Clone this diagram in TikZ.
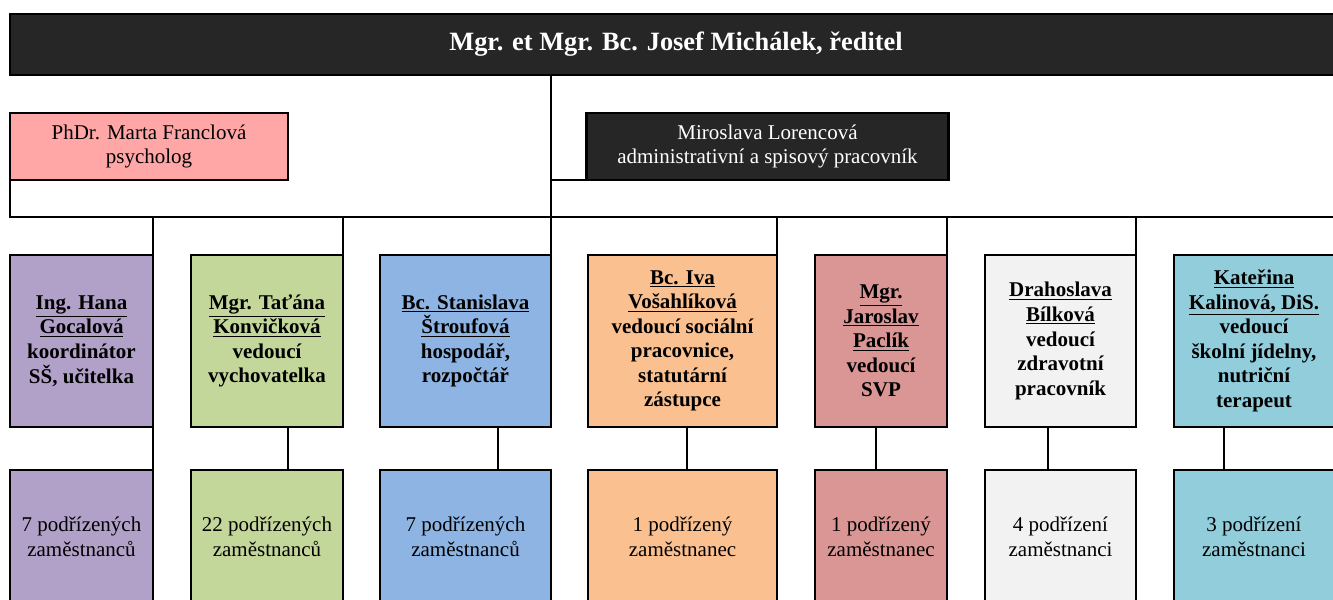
\documentclass[tikz,border=0pt]{standalone}
\usepackage{fontspec}
\setmainfont{Liberation Serif}
\usetikzlibrary{positioning}

\definecolor{barblack}{HTML}{262626}
\definecolor{psyred}{HTML}{FFA7A7}
\definecolor{lilac}{HTML}{B1A0C7}
\definecolor{olivegreen}{HTML}{C4D79B}
\definecolor{skyblue}{HTML}{8DB4E2}
\definecolor{peach}{HTML}{FAC090}
\definecolor{rosered}{HTML}{DA9694}
\definecolor{palegrey}{HTML}{F2F2F2}
\definecolor{tealblue}{HTML}{92CDDC}

\tikzset{
	box/.style={draw=black, line width=1.6pt, align=center, inner sep=0pt, outer sep=0pt, text=black},
	head/.style={box, font=\fontsize{15.75}{18.4}\selectfont\bfseries, minimum height=129pt},
	staff/.style={box, font=\fontsize{15.75}{18.75}\selectfont, minimum height=100pt},
	link/.style={line width=1.6pt}
}

\begin{document}
\begin{tikzpicture}[x=0.75pt, y=-0.75pt]
	\useasboundingbox (0,0) rectangle (1333,599);
	\clip (0,0) rectangle (1333,599);

	% director and the two staff boxes under him
	\node[box, fill=barblack, text=white, minimum width=999pt, minimum height=45.75pt, font=\fontsize{19.8}{23}\selectfont\bfseries] (dir) at (676,44.5) {Mgr. et Mgr. Bc. Josef Michálek, ředitel};
	\node[box, fill=psyred, minimum width=208.5pt, minimum height=50.25pt, font=\fontsize{15.75}{18}\selectfont] (psy) at (149,146.5) {PhDr. Marta Franclová\\psycholog};
	\node[box, fill=barblack, text=white, minimum width=271.5pt, minimum height=50.25pt, font=\fontsize{15.75}{18}\selectfont] (adm) at (767.5,146.5) {Miroslava Lorencová\\administrativní a spisový pracovník};

	% heads of sections
	\node[head, fill=lilac, minimum width=107.25pt] (hA) at (81.5,341) {\underline{Ing. Hana}\\\underline{Gocalová}\\koordinátor\\SŠ, učitelka};
	\node[head, fill=olivegreen, minimum width=114pt] (hB) at (267,341) {\underline{Mgr. Taťána}\\\underline{Konvičková}\\vedoucí\\vychovatelka};
	\node[head, fill=skyblue, minimum width=128.25pt] (hC) at (465.5,341) {\underline{Bc. Stanislava}\\\underline{Štroufová}\\hospodář,\\rozpočtář};
	\node[head, fill=peach, minimum width=141.75pt] (hD) at (682.5,341) {\underline{Bc. Iva}\\\underline{Vošahlíková}\\vedoucí sociální\\pracovnice,\\statutární\\zástupce};
	\node[head, fill=rosered, minimum width=99pt] (hE) at (881,341) {\underline{Mgr.}\\\underline{Jaroslav}\\\underline{Paclík}\\vedoucí\\SVP};
	\node[head, fill=palegrey, minimum width=113.25pt] (hF) at (1060.5,341) {\underline{Drahoslava}\\\underline{Bílková}\\vedoucí\\zdravotní\\pracovník};
	\node[head, fill=tealblue, minimum width=120pt] (hG) at (1254,341) {\underline{Kateřina}\\\underline{Kalinová, DiS.}\\vedoucí\\školní jídelny,\\nutriční\\terapeut};

	% staff counts
	\node[staff, fill=lilac, minimum width=107.25pt] (sA) at (81.5,536.5) {7 podřízených\\zaměstnanců};
	\node[staff, fill=olivegreen, minimum width=114pt] (sB) at (267,536.5) {22 podřízených\\zaměstnanců};
	\node[staff, fill=skyblue, minimum width=128.25pt] (sC) at (465.5,536.5) {7 podřízených\\zaměstnanců};
	\node[staff, fill=peach, minimum width=141.75pt] (sD) at (682.5,536.5) {1 podřízený\\zaměstnanec};
	\node[staff, fill=rosered, minimum width=99pt] (sE) at (881,536.5) {1 podřízený\\zaměstnanec};
	\node[staff, fill=palegrey, minimum width=113.25pt] (sF) at (1060.5,536.5) {4 podřízení\\zaměstnanci};
	\node[staff, fill=tealblue, minimum width=120pt] (sG) at (1254,536.5) {3 podřízení\\zaměstnanci};

	% connectors
	\coordinate (busL) at (10,217);
	\coordinate (busR) at (1334,217);
	\draw[link] (dir.south -| hC.north east) -- (hC.north east);
	\draw[link] (dir.south -| hC.north east) |- (adm.south west);
	\draw[link] (psy.south west) -- (busL) -- (busR);
	\foreach \h in {hA,hB,hD,hE,hF,hG}
		\draw[link] (\h.north east |- busL) -- (\h.north east);

	\draw[link] (hA.south east) -- (sA.north east);
	\draw[link] (hB.south -| 288,0) -- (sB.north -| 288,0);
	\draw[link] (hC.south -| 498,0) -- (sC.north -| 498,0);
	\draw[link] (hD.south -| 687,0) -- (sD.north -| 687,0);
	\draw[link] (hE.south -| 876,0) -- (sE.north -| 876,0);
	\draw[link] (hF.south -| 1048,0) -- (sF.north -| 1048,0);
	\draw[link] (hG.south -| 1224,0) -- (sG.north -| 1224,0);
\end{tikzpicture}
\end{document}
